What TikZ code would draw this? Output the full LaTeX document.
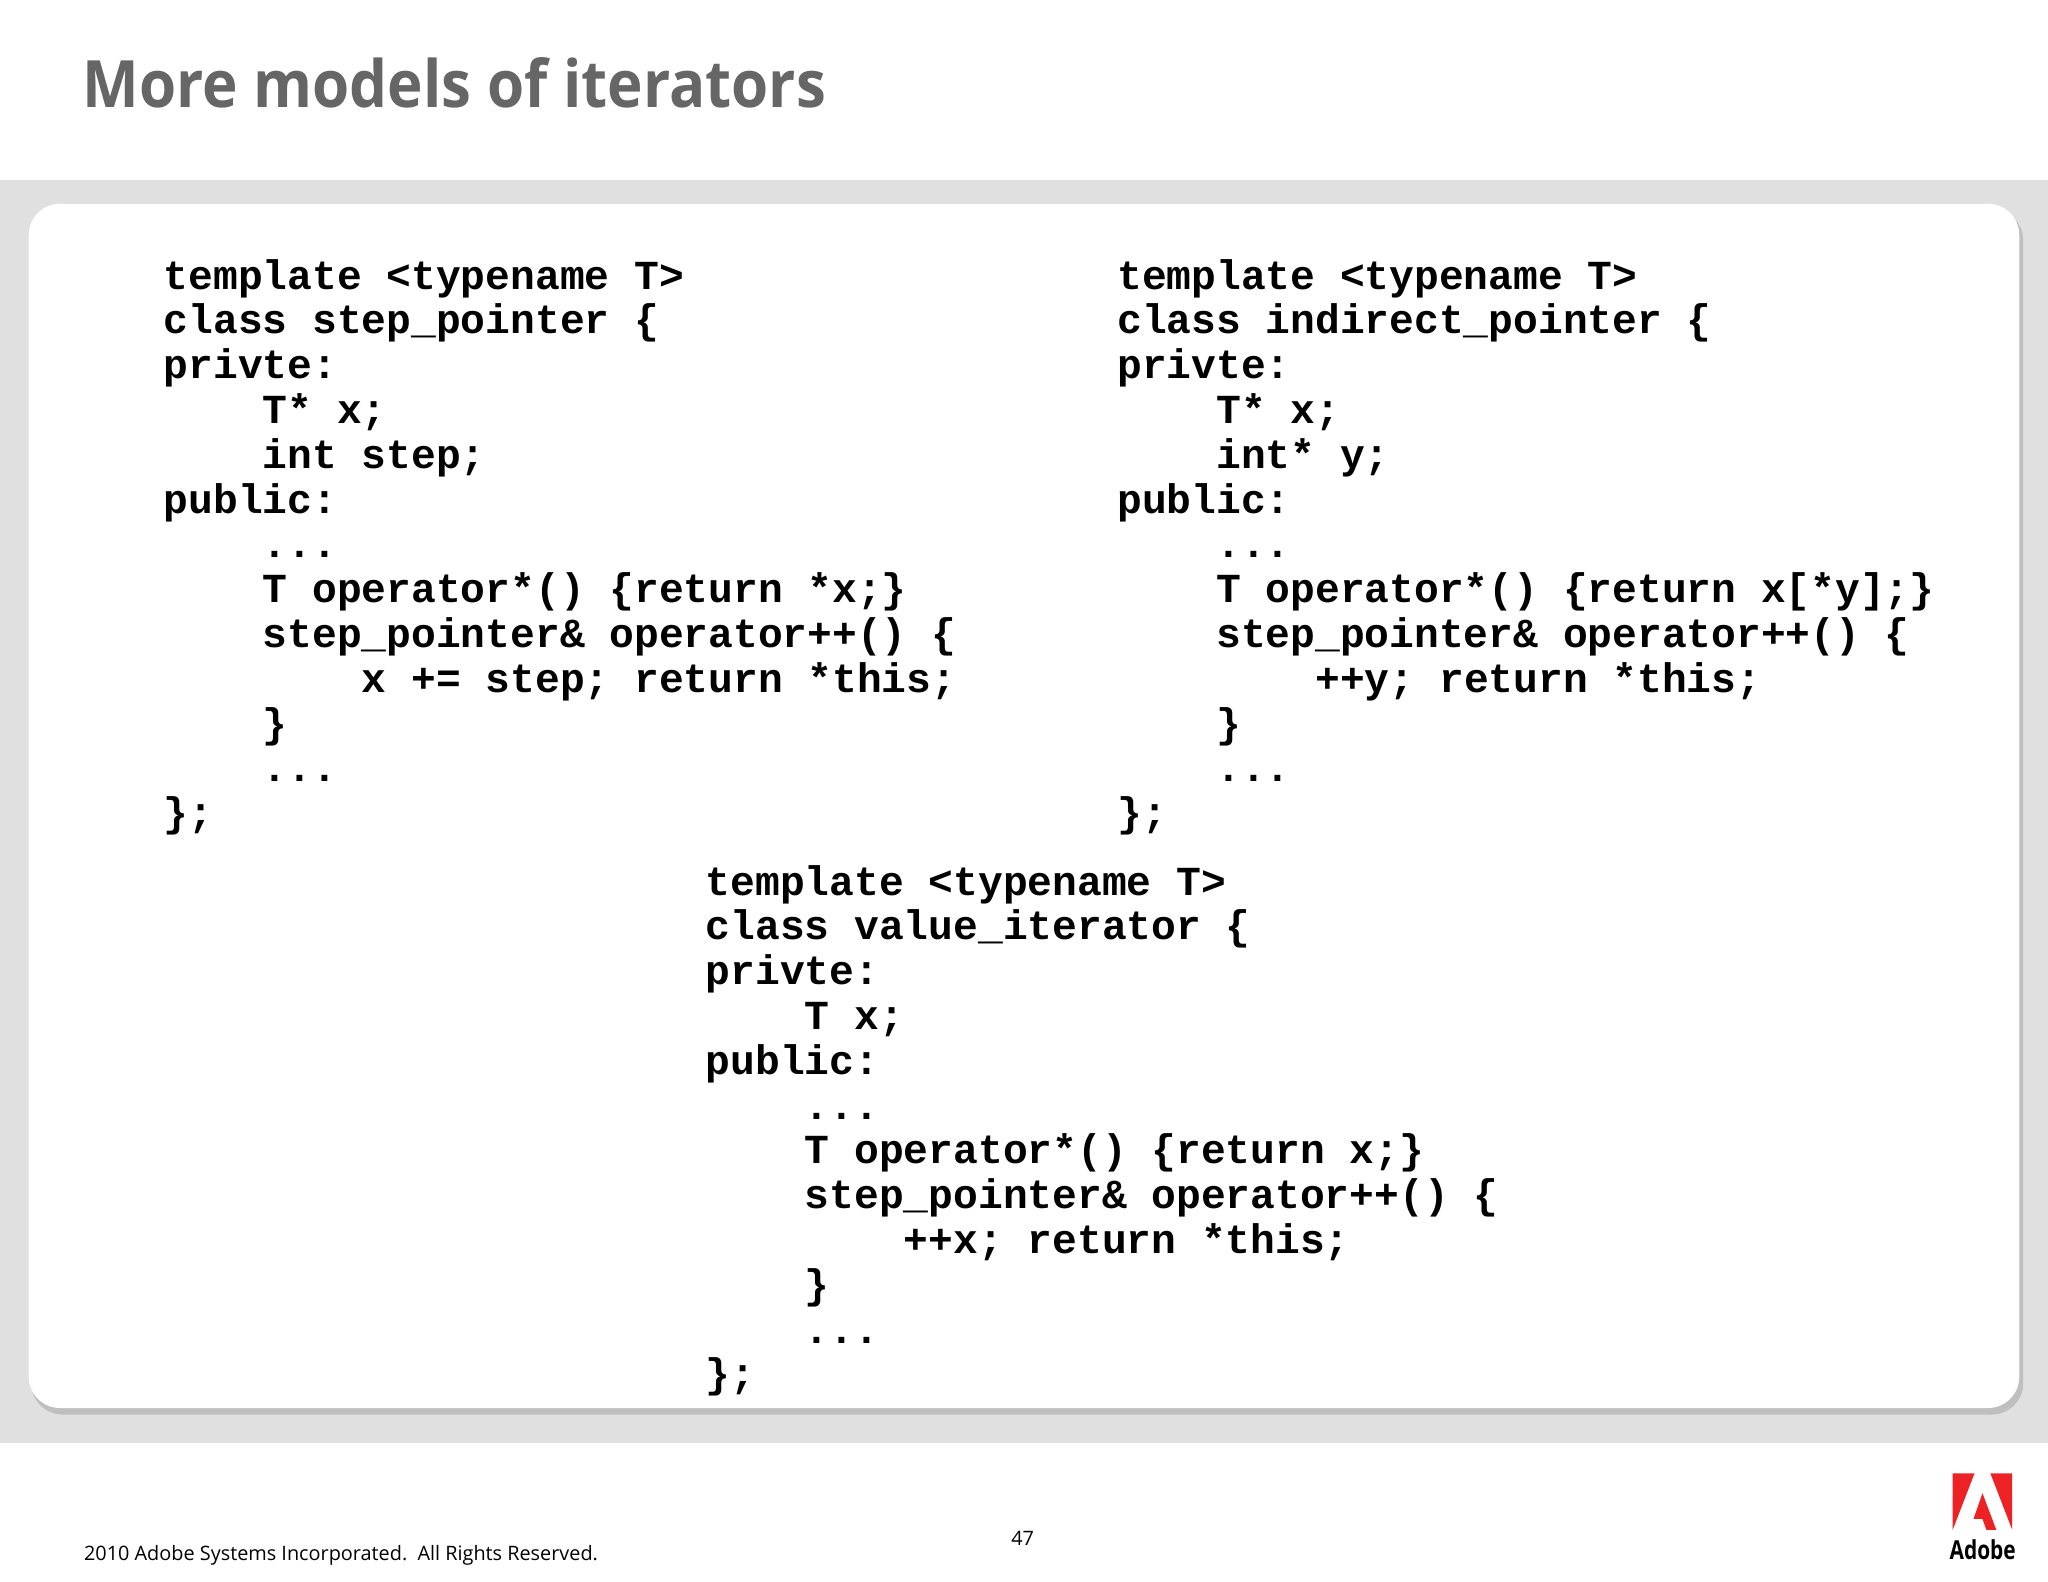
\documentclass[tikz,border=0pt]{standalone}
\usepackage{fontspec}
\setmainfont{Open Sans}
\newfontfamily\codefont{Liberation Mono}
\newfontfamily\titlefont{Open Sans}
\definecolor{band}{HTML}{E0E0E0}
\definecolor{titlegray}{HTML}{666666}
\definecolor{adobered}{HTML}{ED2224}
\newcommand{\ind}{\hphantom{0000}}
\begin{document}
\begin{tikzpicture}[x=0.5pt,y=-0.5pt,
  code/.style={anchor=north west,inner sep=0,align=left,font=\codefont\bfseries\fontsize{15.8}{17.15}\selectfont}]
\useasboundingbox (0,0) rectangle (1568,1211);
\fill[white] (0,0) rectangle (1568,1211);
\fill[band] (0,138) rectangle (1568,1105);
\fill[black!25,rounded corners=12] (24,160) rectangle (1549,1083);
\fill[white,rounded corners=12] (22,156) rectangle (1546,1078);
\node[anchor=base west,inner sep=0,text=titlegray,font=\titlefont\bfseries\fontsize{25}{30}\selectfont,xscale=0.92] (title) at (63,82) {More models of iterators};
\node[code] (left) at (125,198) {template <typename T>\\class step\_pointer \{\\privte:\\\ind T* x;\\\ind int step;\\public:\\\ind ...\\\ind T operator*() \{return *x;\}\\\ind step\_pointer\& operator++() \{\\\ind\ind x += step; return *this;\\\ind \}\\\ind ...\\\};};
\node[code] (right) at (855,198) {template <typename T>\\class indirect\_pointer \{\\privte:\\\ind T* x;\\\ind int* y;\\public:\\\ind ...\\\ind T operator*() \{return x[*y];\}\\\ind step\_pointer\& operator++() \{\\\ind\ind ++y; return *this;\\\ind \}\\\ind ...\\\};};
\node[code] (bottom) at (540,662) {template <typename T>\\class value\_iterator \{\\privte:\\\ind T x;\\public:\\\ind ...\\\ind T operator*() \{return x;\}\\\ind step\_pointer\& operator++() \{\\\ind\ind ++x; return *this;\\\ind \}\\\ind ...\\\};};
\node[anchor=base west,inner sep=0,font=\fontsize{7.6}{9}\selectfont] (copy) at (64,1195) {2010 Adobe Systems Incorporated.\ \ All Rights Reserved.};
\node[anchor=base,inner sep=0,font=\fontsize{7.6}{9}\selectfont] (page) at (783,1183) {47};
\begin{scope}[shift={(1495,1128)},x=0.38pt,y=-0.38pt]
\fill[adobered] (0,0) -- (22,0) -- (0,57) -- cycle;
\fill[adobered] (38,0) -- (60,0) -- (60,57) -- cycle;
\fill[adobered] (30,20) -- (44,57) -- (34,57) -- (30,46) -- (21,46) -- cycle;
\end{scope}
\node[anchor=base,inner sep=0,font=\bfseries\fontsize{10}{12}\selectfont,xscale=0.8] (adobe) at (1518,1194) {Adobe};
\end{tikzpicture}
\end{document}
